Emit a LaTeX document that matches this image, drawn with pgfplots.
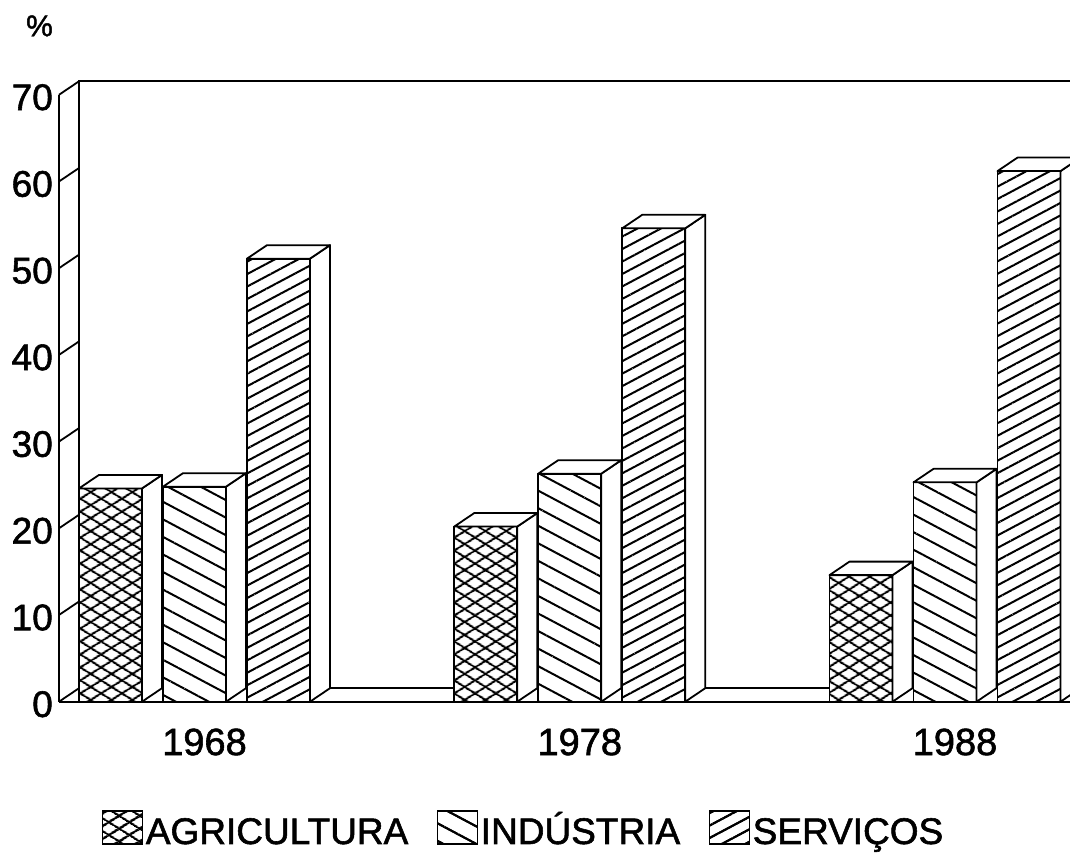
\documentclass[border=0pt]{standalone}
\usepackage{pgfplots}
\pgfplotsset{compat=1.18}
\usepackage{pgfplotstable}
\usetikzlibrary{patterns.meta}
\usepackage{fontspec}
\setmainfont{Liberation Sans}[FakeBold=1.5]

\pgfplotstableread{
x agri ind serv
0 24.6 24.8 51.1
1 20.2 26.3 54.6
2 14.6 25.3 61.2
}\data

\tikzset{
  agripat/.style={fill=white,
    postaction={pattern={Lines[angle=32,distance=10.5pt,line width=2pt]}},
    postaction={pattern={Lines[angle=-32,distance=10.5pt,line width=2pt]}}},
  indpat/.style={fill=white,
    postaction={pattern={Lines[angle=-28,distance=15.5pt,line width=2pt]}}},
  servpat/.style={fill=white,
    postaction={pattern={Lines[angle=28,distance=11pt,line width=2pt]}}},
}

\pgfplotsset{
  wall/.style={black, line width=1.8pt, no markers, forget plot, unbounded coords=jump},
  front/.style={ybar, bar width=63pt, draw=black, line width=1.8pt, line join=round, #1,
     legend image code/.code={\draw[line width=1.5pt, draw=black, #1] (0pt,0pt) rectangle (40pt,33pt);}},
  faces/.style={only marks, scatter, forget plot, mark=*, mark size=0pt,
     visualization depends on={\thisrow{#1} \as \val},
     scatter/@pre marker code/.code={%
       \pgfmathsetlengthmacro\hh{\val*8.67pt}%
       \draw[line width=1.8pt, draw=black, fill=white, line join=round]
          (0pt,0pt) -- (20pt,13.5pt) -- (20pt,13.5pt-\hh) -- (0pt,-\hh) -- cycle;
       \draw[line width=1.8pt, draw=black, fill=white, line join=round]
          (0pt,0pt) -- (-63pt,0pt) -- (-43pt,13.5pt) -- (20pt,13.5pt) -- cycle;
       \scope[opacity=0]},
     scatter/@post marker code/.code={\endscope},
  },
}

\begin{document}
\begin{tikzpicture}
\begin{axis}[
  x=375.25pt, y=8.67pt,
  xmin=-0.51832, xmax=2.33311,
  ymin=-17.566, ymax=80.934,
  clip marker paths=true,
  axis line style={draw=none},
  tick style={draw=none},
  major tick length=0pt,
  xtick={0,1,2}, xticklabels={1968,1978,1988},
  ytick={0,10,...,70},
  /pgf/number format/assume math mode=true,
  yticklabel style={anchor=east, inner sep=0pt, xshift=53pt, yshift=-2.5pt, font=\fontsize{37}{37}\selectfont},
  xticklabel style={anchor=center, inner sep=0pt, xshift=10pt, yshift=112pt, font=\fontsize{38}{38}\selectfont},
  ylabel={\%},
  every axis y label/.style={at={(rel axis cs:0.0369,0.9696)}, anchor=center, font=\fontsize{30}{30}\selectfont},
  legend style={at={(rel axis cs:0.095,0.0068)}, anchor=south west, draw=none, fill=none,
    legend columns=3, font=\fontsize{37}{37}\selectfont,
    inner sep=0pt,
    nodes={inner sep=2.5pt},
    cells={anchor=base west},
    /tikz/every even column/.append style={column sep=26pt}},
]
% walls and floor
\addplot[wall] coordinates {(-0.36109,0) (-0.36109,70)};
\addplot[wall] coordinates {(-0.30779,1.557) (-0.30779,71.557) (2.4,71.557)};
\addplot[wall] coordinates {(-0.30779,1.557) (2.4,1.557)};
\addplot[wall, line width=2.4pt] coordinates {(-0.36109,0) (2.4,0)};
\addplot[wall] coordinates {(-0.36109,0) (-0.30779,1.557) (nan,nan)
  (-0.36109,10) (-0.30779,11.557) (nan,nan)
  (-0.36109,20) (-0.30779,21.557) (nan,nan)
  (-0.36109,30) (-0.30779,31.557) (nan,nan)
  (-0.36109,40) (-0.30779,41.557) (nan,nan)
  (-0.36109,50) (-0.30779,51.557) (nan,nan)
  (-0.36109,60) (-0.30779,61.557) (nan,nan)
  (-0.36109,70) (-0.30779,71.557)};

% bars: front faces (ybar) and top/side faces drawn at each bar's top-right corner
\addplot[front=agripat, bar shift=-84pt] table[x=x,y=agri]{\data};
\addlegendentry{AGRICULTURA}
\addplot[faces=agri] table[x expr=\thisrow{x}-0.139907,y=agri]{\data};

\addplot[front=indpat, bar shift=0pt] table[x=x,y=ind]{\data};
\addlegendentry{INDÚSTRIA}
\addplot[faces=ind] table[x expr=\thisrow{x}+0.083944,y=ind]{\data};

\addplot[front=servpat, bar shift=84pt] table[x=x,y=serv]{\data};
\addlegendentry{SERVIÇOS}
\addplot[faces=serv] table[x expr=\thisrow{x}+0.307795,y=serv]{\data};
\end{axis}
\end{tikzpicture}
\end{document}
